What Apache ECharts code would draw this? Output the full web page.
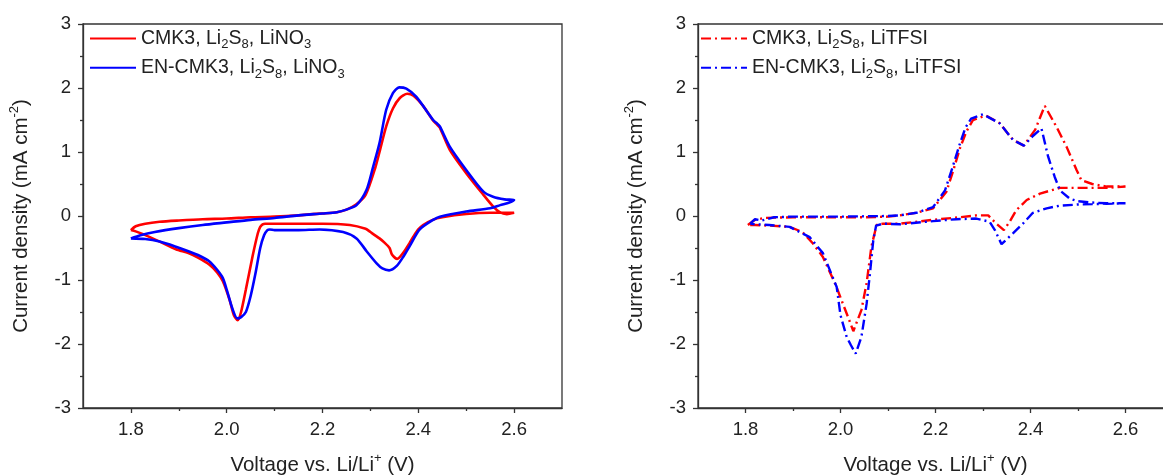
<!DOCTYPE html>
<html>
<head>
<meta charset="utf-8">
<script src="https://cdn.jsdelivr.net/npm/echarts@6/dist/echarts.min.js"></script>
<style>
html,body{margin:0;padding:0;background:#fff;}
#chart{width:1163px;height:475px;}
</style>
</head>
<body>
<div id="chart"></div>
<script>
// ---------- tick labels ----------
const xMajorTicks = [1.8, 2.0, 2.2, 2.4, 2.6];
const xMinorTicks = [1.9, 2.1, 2.3, 2.5];

// ---------- series names ----------
const leftNames = ['CMK3, Li2S8, LiNO3', 'EN-CMK3, Li2S8, LiNO3'];
const rightNames = ['CMK3, Li2S8, LiTFSI', 'EN-CMK3, Li2S8, LiTFSI'];

// ---------- left panel: CMK3, Li2S8, LiNO3 (red, solid) ----------
const cmkNo3V = [1.80,1.81,1.83,1.86,1.90,1.95,2.00,2.05,2.10,2.15,2.20,2.23,2.25,2.27,2.29,2.31,2.32,2.333,2.347,2.361,2.377,2.39,2.41,2.43,2.44,2.445,2.466,2.50,2.536,2.556,2.57,2.585,2.60,
  2.58,2.55,2.50,2.45,2.43,2.41,2.40,2.39,2.382,2.37,2.356,2.345,2.34,2.33,2.319,2.30,2.29,2.257,2.20,2.15,2.10,2.08,2.075,2.07,2.065,2.054,2.04,2.03,2.023,2.015,2.006,1.992,1.98,1.964,1.94,1.92,1.894,1.86,1.824,1.81,1.80];
const cmkNo3I = [-0.22,-0.16,-0.12,-0.09,-0.07,-0.05,-0.04,-0.02,-0.01,0.01,0.04,0.06,0.10,0.18,0.33,0.75,1.03,1.40,1.68,1.84,1.91,1.88,1.72,1.50,1.42,1.38,1.03,0.67,0.33,0.15,0.06,0.03,0.05,
  0.05,0.05,0.03,-0.02,-0.06,-0.14,-0.21,-0.32,-0.42,-0.56,-0.67,-0.60,-0.50,-0.42,-0.35,-0.25,-0.20,-0.14,-0.12,-0.12,-0.12,-0.12,-0.13,-0.17,-0.27,-0.63,-1.15,-1.50,-1.63,-1.55,-1.31,-1.02,-0.88,-0.76,-0.65,-0.58,-0.52,-0.40,-0.28,-0.24,-0.22];

// ---------- left panel: EN-CMK3, Li2S8, LiNO3 (blue, solid) ----------
const enNo3V = [1.80,1.82,1.85,1.90,1.95,2.00,2.05,2.10,2.15,2.20,2.23,2.25,2.271,2.292,2.305,2.319,2.333,2.347,2.36,2.375,2.396,2.431,2.44,2.445,2.466,2.50,2.536,2.556,2.58,2.60,
  2.59,2.571,2.55,2.50,2.445,2.431,2.403,2.382,2.37,2.355,2.339,2.325,2.313,2.292,2.271,2.243,2.194,2.15,2.10,2.09,2.085,2.078,2.07,2.06,2.05,2.04,2.03,2.022,2.012,2.00,1.992,1.98,1.964,1.94,1.92,1.894,1.86,1.83,1.80];
const enNo3I = [-0.35,-0.30,-0.25,-0.19,-0.14,-0.10,-0.06,-0.03,0.01,0.04,0.06,0.10,0.17,0.41,0.75,1.14,1.66,1.92,2.01,1.99,1.86,1.50,1.44,1.40,1.08,0.72,0.38,0.30,0.26,0.25,
  0.21,0.17,0.12,0.07,-0.01,-0.06,-0.21,-0.47,-0.62,-0.78,-0.85,-0.82,-0.74,-0.55,-0.35,-0.25,-0.21,-0.22,-0.22,-0.21,-0.22,-0.30,-0.50,-0.90,-1.25,-1.50,-1.58,-1.60,-1.45,-1.15,-0.97,-0.84,-0.71,-0.61,-0.55,-0.48,-0.40,-0.36,-0.35];

// ---------- right panel: CMK3, Li2S8, LiTFSI (red, dash-dot) ----------
const cmkTfsiV = [1.805,1.82,1.84,1.90,2.00,2.05,2.10,2.125,2.16,2.195,2.223,2.237,2.251,2.265,2.279,2.306,2.335,2.363,2.386,2.41,2.43,2.455,2.476,2.497,2.507,2.53,2.56,2.60,
  2.56,2.50,2.462,2.42,2.392,2.37,2.356,2.344,2.328,2.311,2.287,2.25,2.195,2.125,2.09,2.076,2.065,2.055,2.044,2.027,2.018,2.005,1.99,1.963,1.942,1.92,1.893,1.85,1.82,1.805];
const cmkTfsiI = [-0.14,-0.06,-0.03,-0.02,-0.02,-0.02,-0.01,0.01,0.05,0.12,0.38,0.70,1.05,1.32,1.50,1.57,1.45,1.19,1.10,1.35,1.72,1.39,1.08,0.72,0.56,0.50,0.46,0.46,
  0.44,0.44,0.44,0.35,0.25,0.09,-0.09,-0.22,-0.12,0.01,0.01,-0.02,-0.06,-0.12,-0.12,-0.14,-0.48,-1.05,-1.47,-1.80,-1.62,-1.37,-1.08,-0.64,-0.43,-0.25,-0.17,-0.15,-0.14,-0.14];

// ---------- right panel: EN-CMK3, Li2S8, LiTFSI (blue, dash-dot) ----------
const enTfsiV = [1.81,1.82,1.835,1.86,1.90,2.00,2.10,2.125,2.16,2.195,2.22,2.235,2.25,2.263,2.275,2.30,2.335,2.363,2.386,2.405,2.423,2.437,2.451,2.462,2.483,2.50,2.53,2.56,2.60,
  2.56,2.50,2.46,2.434,2.405,2.384,2.363,2.339,2.325,2.314,2.286,2.244,2.195,2.125,2.09,2.075,2.069,2.062,2.055,2.044,2.032,2.022,2.013,2.00,1.992,1.963,1.935,1.893,1.85,1.82,1.81];
const enTfsiI = [-0.12,-0.05,-0.07,-0.02,-0.01,-0.01,0.00,0.01,0.05,0.14,0.40,0.74,1.10,1.38,1.52,1.59,1.45,1.19,1.10,1.25,1.37,0.93,0.61,0.40,0.27,0.23,0.21,0.20,0.20,
  0.19,0.18,0.16,0.12,0.05,-0.12,-0.27,-0.44,-0.22,-0.09,-0.04,-0.05,-0.08,-0.13,-0.12,-0.15,-0.38,-0.90,-1.37,-1.89,-2.15,-2.02,-1.89,-1.55,-1.11,-0.58,-0.33,-0.17,-0.14,-0.13,-0.12];

// ---------- styles ----------
const FONT = 'Liberation Sans, Arial, sans-serif';
const AXIS_COLOR = '#333';
const TEXT_COLOR = '#222';
const RED = '#ff0000';
const BLUE = '#0000ff';
const DASH_DOT = [10, 4, 2, 4];
const TICK_FONT = 18.5;
const LEGEND_FONT = 19.5;
const TITLE_FONT = 20.5;

function zip(v, c) { return v.map((x, i) => [x, c[i]]); }

const subRich = {
  s: { fontSize: 13, fontFamily: FONT, color: TEXT_COLOR, lineHeight: 26, verticalAlign: 'bottom' },
  n: { fontSize: LEGEND_FONT, fontFamily: FONT, color: TEXT_COLOR, lineHeight: 26 }
};
function legendFmt(name) {
  return name.replace(/^(.*Li)2S8(, LiNO|, LiTFSI)(3?)$/, function (m, a, b, c) {
    return '{n|' + a + '}{s|2}{n|S}{s|8}{n|' + b + '}' + (c ? '{s|3}' : '');
  });
}
const supRich = {
  a: { fontSize: TITLE_FONT, fontFamily: FONT, color: TEXT_COLOR, lineHeight: 27 },
  p: { fontSize: 13, fontFamily: FONT, color: TEXT_COLOR, lineHeight: 27, verticalAlign: 'top' }
};

function makeGrid(left, right) {
  return { left: left, right: right, top: 24, bottom: 67, show: true, borderColor: AXIS_COLOR, borderWidth: 1.3, containLabel: false, outerBoundsMode: 'none' };
}
function mainX(gi) {
  return {
    type: 'value', gridIndex: gi, min: 1.7, max: 2.7, position: 'bottom',
    axisLine: { show: true, onZero: false, lineStyle: { color: AXIS_COLOR, width: 1.3 } },
    axisTick: { show: true, customValues: xMajorTicks, length: 5, inside: false, lineStyle: { color: AXIS_COLOR, width: 1.3 } },
    axisLabel: { customValues: xMajorTicks, formatter: v => Number(v).toFixed(1), fontSize: TICK_FONT, color: TEXT_COLOR, fontFamily: FONT, margin: 12 },
    splitLine: { show: false },
    name: '{a|Voltage vs. Li/Li}{p|+}{a| (V)}',
    nameLocation: 'middle', nameGap: 44,
    nameTextStyle: { rich: supRich }
  };
}
function minorX(gi) {
  return {
    type: 'value', gridIndex: gi, min: 1.7, max: 2.7, position: 'bottom',
    axisLine: { show: false, onZero: false },
    axisTick: { show: true, customValues: xMinorTicks, length: 3, lineStyle: { color: AXIS_COLOR, width: 1.3 } },
    axisLabel: { show: false },
    splitLine: { show: false }
  };
}
function mainY(gi) {
  return {
    type: 'value', gridIndex: gi, min: -3, max: 3, interval: 1,
    axisLine: { show: true, onZero: false, lineStyle: { color: AXIS_COLOR, width: 1.3 } },
    axisTick: { show: true, length: 5, lineStyle: { color: AXIS_COLOR, width: 1.3 } },
    minorTick: { show: true, splitNumber: 2, length: 3, lineStyle: { color: AXIS_COLOR, width: 1.3 } },
    axisLabel: { fontSize: TICK_FONT, color: TEXT_COLOR, fontFamily: FONT, margin: 12 },
    splitLine: { show: false },
    minorSplitLine: { show: false },
    name: '{a|Current density (mA cm}{p|-2}{a|)}',
    nameLocation: 'middle', nameGap: 48,
    nameTextStyle: { rich: supRich }
  };
}
function legend(left, names) {
  return {
    data: names, left: left, top: 28, orient: 'vertical', padding: 0,
    itemWidth: 46, itemHeight: 26, itemGap: 6,
    formatter: legendFmt,
    itemStyle: { opacity: 0 },
    textStyle: { fontSize: LEGEND_FONT, color: TEXT_COLOR, fontFamily: FONT, rich: subRich },
    selectedMode: false
  };
}
function lineSeries(name, v, c, color, xi, yi, dashed) {
  return {
    type: 'line', name: name, xAxisIndex: xi, yAxisIndex: yi,
    data: zip(v, c), showSymbol: false, symbol: 'none', smooth: dashed ? false : 0.25,
    lineStyle: { color: color, width: dashed ? 2.4 : 2.6, type: dashed ? DASH_DOT : 'solid', cap: 'butt' },
    itemStyle: { color: color },
    z: 3
  };
}

const option = {
  animation: false,
  backgroundColor: '#fff',
  textStyle: { fontFamily: FONT },
  grid: [makeGrid(83, 601), makeGrid(698, -10)],
  xAxis: [mainX(0), minorX(0), mainX(1), minorX(1)],
  yAxis: [mainY(0), mainY(1)],
  legend: [legend(89, leftNames), legend(700, rightNames)],
  series: [
    lineSeries(leftNames[0], cmkNo3V, cmkNo3I, RED, 0, 0, false),
    lineSeries(leftNames[1], enNo3V, enNo3I, BLUE, 0, 0, false),
    lineSeries(rightNames[0], cmkTfsiV, cmkTfsiI, RED, 2, 1, true),
    lineSeries(rightNames[1], enTfsiV, enTfsiI, BLUE, 2, 1, true)
  ]
};

const chart = echarts.init(document.getElementById('chart'), null, { renderer: 'canvas' });
chart.setOption(option);
</script>
</body>
</html>
